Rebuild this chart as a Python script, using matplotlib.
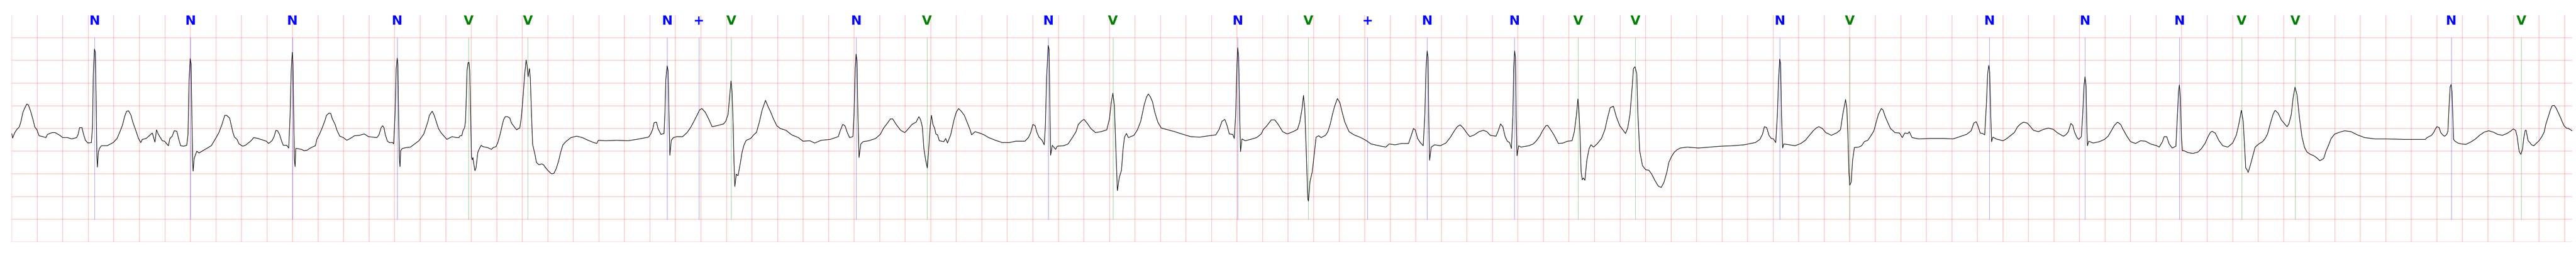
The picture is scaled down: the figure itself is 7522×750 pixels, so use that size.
import numpy as np
import matplotlib
matplotlib.use('Agg')
import matplotlib.pyplot as plt

### ### Данные ### ###

# ECG trace, time in seconds, amplitude in mV
ecg_t = [
    0.000, 0.007, 0.022, 0.040, 0.058, 0.070, 0.088, 0.100, 0.118, 0.130,
    0.148, 0.166, 0.181, 0.196, 0.214, 0.244, 0.268, 0.280, 0.316, 0.340,
    0.376, 0.400, 0.436, 0.470, 0.508, 0.520, 0.532, 0.550, 0.561, 0.577,
    0.597, 0.624, 0.633, 0.639, 0.648, 0.655, 0.661, 0.667, 0.671, 0.678,
    0.687, 0.702, 0.747, 0.795, 0.825, 0.849, 0.867, 0.885, 0.900, 0.915,
    0.933, 0.951, 0.969, 0.993, 1.011, 1.023, 1.053, 1.077, 1.101, 1.122,
    1.134, 1.149, 1.179, 1.197, 1.227, 1.239, 1.257, 1.273, 1.293, 1.309,
    1.323, 1.347, 1.371, 1.381, 1.389, 1.398, 1.405, 1.411, 1.417, 1.421,
    1.429, 1.450, 1.467, 1.515, 1.563, 1.593, 1.623, 1.647, 1.669, 1.683,
    1.707,
    1.732, 1.745, 1.765, 1.781, 1.809, 1.831, 1.853, 1.875, 1.896, 1.929,
    1.951, 1.995, 2.012, 2.039, 2.055, 2.070, 2.083, 2.099, 2.116, 2.127,
    2.154, 2.170, 2.181, 2.190, 2.198, 2.203, 2.210, 2.215, 2.220, 2.225,
    2.234, 2.269, 2.291, 2.313, 2.346, 2.379, 2.390, 2.412, 2.433, 2.453,
    2.466, 2.486, 2.499, 2.512, 2.532, 2.548, 2.570, 2.598, 2.625, 2.652,
    2.685, 2.724, 2.762, 2.795, 2.828, 2.861, 2.877, 2.894, 2.905, 2.916,
    2.927, 2.943, 2.959, 2.985, 2.992, 3.003, 3.012, 3.020, 3.025, 3.032,
    3.038, 3.042, 3.047, 3.060, 3.091, 3.124, 3.157, 3.190, 3.211, 3.228,
    3.244, 3.261, 3.272, 3.294, 3.310, 3.326, 3.343, 3.365, 3.387,
    3.409, 3.449, 3.485, 3.503, 3.512, 3.526, 3.535, 3.548, 3.555, 3.561,
    3.567, 3.575, 3.582, 3.588, 3.595, 3.602, 3.608, 3.613, 3.620, 3.629,
    3.638, 3.651, 3.664, 3.678, 3.691, 3.727, 3.759, 3.772, 3.794, 3.808,
    3.826, 3.844, 3.853, 3.866, 3.884, 3.902, 3.915, 3.933, 3.956, 3.969,
    3.980, 3.992, 4.005, 4.019, 4.030, 4.037, 4.045, 4.056, 4.063, 4.072,
    4.081, 4.090, 4.099, 4.111, 4.130, 4.153, 4.166, 4.184, 4.202, 4.229,
    4.247, 4.265, 4.283, 4.300, 4.318, 4.345, 4.381, 4.426, 4.471, 4.515,
    4.560, 4.583, 4.596, 4.650, 4.740,
    4.828, 4.917, 4.989, 5.006, 5.021, 5.033, 5.051, 5.063, 5.086, 5.110,
    5.117, 5.124, 5.135, 5.142, 5.149, 5.156, 5.167, 5.184, 5.211, 5.256,
    5.291, 5.318, 5.345, 5.372, 5.389, 5.407, 5.433, 5.460, 5.487, 5.522,
    5.576, 5.594, 5.612, 5.624, 5.635, 5.643, 5.652, 5.658, 5.665, 5.676,
    5.690, 5.709, 5.722, 5.736, 5.754, 5.789, 5.816, 5.834, 5.857, 5.879,
    5.893, 5.905, 5.923, 5.946, 5.968, 5.994, 6.021, 6.066, 6.110, 6.163,
    6.199, 6.252, 6.291, 6.341, 6.412, 6.475, 6.492, 6.510, 6.528, 6.546,
    6.564, 6.590, 6.599, 6.608, 6.615, 6.622, 6.629, 6.638, 6.652, 6.670,
    6.715, 6.768, 6.804, 6.831, 6.858, 6.884, 6.902, 6.929, 6.964, 6.996,
    7.017, 7.053, 7.085, 7.107, 7.119, 7.128, 7.135, 7.146, 7.160, 7.173,
    7.181, 7.196, 7.205, 7.217, 7.231, 7.240, 7.253, 7.267, 7.302, 7.317,
    7.331, 7.356, 7.382, 7.400, 7.418, 7.436, 7.463, 7.489, 7.507,
    7.520, 7.547, 7.582, 7.618, 7.653, 7.707, 7.760, 7.814, 7.867, 7.938,
    7.965, 7.983, 8.000, 8.018, 8.031, 8.048, 8.072, 8.089, 8.098, 8.107,
    8.120, 8.127, 8.134, 8.139, 8.152, 8.178, 8.191, 8.241, 8.276, 8.312,
    8.338, 8.356, 8.383, 8.401, 8.427, 8.454, 8.490, 8.534, 8.579, 8.600,
    8.614, 8.627, 8.638, 8.650, 8.662, 8.677, 8.694, 8.707, 8.718, 8.733,
    8.748, 8.792, 8.819, 8.845, 8.872, 8.890, 8.904, 8.920, 8.937, 8.955,
    8.979, 9.006, 9.059, 9.112, 9.166, 9.237, 9.308, 9.379, 9.433, 9.459,
    9.482, 9.504, 9.522, 9.539, 9.566, 9.578, 9.589, 9.598, 9.605, 9.612,
    9.620, 9.627, 9.638, 9.664, 9.718, 9.753, 9.789, 9.806, 9.833, 9.868,
    9.895, 9.922, 9.957, 9.993, 10.038, 10.073, 10.091, 10.109, 10.120, 10.130,
    10.141, 10.154, 10.159, 10.171, 10.189, 10.207, 10.219,
    10.240, 10.258, 10.293, 10.311, 10.329, 10.347, 10.364, 10.386, 10.405, 10.423,
    10.444, 10.477, 10.516, 10.569, 10.614, 10.649, 10.711, 10.765, 10.791, 10.836,
    10.889, 10.943, 10.960, 10.982, 10.996, 11.014, 11.035, 11.058, 11.071, 11.080,
    11.089, 11.096, 11.101, 11.108, 11.121, 11.147, 11.192, 11.236, 11.272, 11.302,
    11.325, 11.347, 11.370, 11.397, 11.423, 11.459, 11.495, 11.530, 11.557, 11.583,
    11.628, 11.646, 11.664, 11.682, 11.699, 11.717, 11.735, 11.749, 11.761, 11.767,
    11.774, 11.781, 11.786, 11.793, 11.806, 11.823, 11.886, 11.921, 11.948, 11.975,
    11.993, 12.019, 12.032, 12.055, 12.082, 12.117, 12.153, 12.189, 12.224, 12.242,
    12.259, 12.270, 12.277, 12.286, 12.295, 12.304, 12.313, 12.325, 12.340, 12.358,
    12.372, 12.393, 12.420, 12.455, 12.482, 12.500, 12.523, 12.548, 12.571, 12.598,
    12.625, 12.643, 12.660, 12.678, 12.696, 12.705, 12.717, 12.731, 12.740, 12.754,
    12.776, 12.802, 12.826, 12.847, 12.874, 12.900, 12.923, 12.945, 12.968, 12.982,
    13.003,
    13.023, 13.046, 13.073, 13.126, 13.215, 13.304, 13.393, 13.482, 13.571, 13.660,
    13.696, 13.717, 13.731, 13.749, 13.767, 13.785, 13.802, 13.820, 13.833, 13.842,
    13.851, 13.858, 13.865, 13.874, 13.883, 13.927, 13.972, 14.016, 14.052, 14.087,
    14.114, 14.137, 14.158, 14.185, 14.212, 14.256, 14.301, 14.327, 14.345, 14.367,
    14.377, 14.386, 14.393, 14.400, 14.411, 14.422, 14.436, 14.470, 14.493, 14.514,
    14.541, 14.568, 14.589, 14.607, 14.624, 14.647, 14.660, 14.678, 14.701, 14.719,
    14.754, 14.790, 14.811, 14.831, 14.856, 14.866, 14.888, 14.941, 15.030, 15.137,
    15.208, 15.262, 15.315, 15.351, 15.372, 15.390, 15.404, 15.422, 15.440, 15.457,
    15.471, 15.480, 15.489, 15.496, 15.504, 15.511, 15.521, 15.546, 15.600, 15.626,
    15.653, 15.689, 15.715, 15.738,
    15.761, 15.790, 15.810, 15.839, 15.878, 15.917, 15.956, 15.995, 16.024, 16.073,
    16.093, 16.112, 16.132, 16.147, 16.161, 16.180, 16.194, 16.214, 16.225, 16.235,
    16.243, 16.251, 16.257, 16.262, 16.272, 16.307, 16.356, 16.395, 16.424, 16.453,
    16.473, 16.498, 16.522, 16.541, 16.571, 16.600, 16.639, 16.678, 16.717, 16.756,
    16.805, 16.824, 16.850, 16.863, 16.883, 16.902, 16.926, 16.955, 16.967, 16.976,
    16.982, 16.990, 16.998, 17.006, 17.019, 17.049, 17.088, 17.127, 17.156, 17.185,
    17.205, 17.224, 17.238, 17.263, 17.293, 17.322, 17.361, 17.400, 17.429, 17.449,
    17.468, 17.482, 17.494, 17.502, 17.511, 17.521, 17.537, 17.556, 17.576, 17.605,
    17.634, 17.654, 17.673, 17.693, 17.716, 17.732, 17.755, 17.781, 17.810, 17.826,
    17.840, 17.859, 17.873, 17.888, 17.904, 17.924, 17.943, 17.963, 17.982, 18.009,
    18.035, 18.060, 18.083, 18.113, 18.132, 18.152, 18.171, 18.200, 18.239, 18.278,
    18.327, 18.376, 18.434, 18.512, 18.610, 18.742,
    18.797, 18.869, 18.909, 18.923, 18.958, 18.976, 18.990, 18.999, 19.017, 19.030,
    19.048, 19.061, 19.077, 19.086, 19.095, 19.104, 19.111, 19.118, 19.124, 19.130,
    19.142, 19.164, 19.191, 19.227, 19.263, 19.298, 19.334, 19.370, 19.406, 19.442,
    19.477, 19.513, 19.549, 19.576, 19.598, 19.616, 19.628, 19.638, 19.645, 19.658,
    19.670, 19.681, 19.692, 19.699, 19.708, 19.714, 19.728, 19.741, 19.759, 19.777,
    19.800, 19.822, 19.840, 19.853, 19.871, 19.889, 19.902, 19.918, 19.934, 19.952,
    19.970, 19.983, 19.996, 20.014, 20.032, 20.059,
]

ecg_mv = [
    -0.11, -0.21, -0.10, -0.02, 0.03, 0.13, 0.36, 0.44, 0.54, 0.52,
    0.38, 0.20, 0.03, -0.02, -0.16, -0.18, -0.20, -0.13, -0.09, -0.09,
    -0.15, -0.20, -0.20, -0.23, -0.20, -0.13, 0.02, 0.02, -0.11, -0.26,
    -0.32, -0.31, 0.05, 1.21, 1.75, 1.68, 0.67, -0.60, -0.85, -0.53,
    -0.44, -0.38, -0.38, -0.31, -0.22, -0.06, 0.07, 0.27, 0.38, 0.39,
    0.30, 0.12, -0.02, -0.22, -0.31, -0.24, -0.22, -0.16, -0.10, -0.30,
    -0.03, -0.13, -0.27, -0.28, -0.38, -0.22, -0.17, -0.05, -0.06, -0.24,
    -0.38, -0.39, -0.37, -0.13, 1.03, 1.54, 1.43, 0.30, -0.71, -0.94,
    -0.66, -0.50, -0.54, -0.46, -0.38, -0.24, -0.09, 0.09, 0.29, 0.29,
    0.23,
    -0.08, -0.19, -0.24, -0.34, -0.39, -0.37, -0.32, -0.27, -0.20, -0.22,
    -0.24, -0.28, -0.33, -0.27, -0.18, -0.04, -0.05, -0.14, -0.29, -0.37,
    -0.37, -0.43, 0.31, 1.32, 1.68, 1.45, 0.06, -0.70, -0.84, -0.44,
    -0.44, -0.46, -0.49, -0.48, -0.42, -0.38, -0.24, -0.12, 0.02, 0.17,
    0.29, 0.34, 0.33, 0.21, 0.10, -0.04, -0.17, -0.20, -0.26, -0.22,
    -0.16, -0.15, -0.12, -0.18, -0.19, -0.20, -0.14, 0.02, 0.06, 0.02,
    -0.14, -0.28, -0.31, -0.31, -0.34, 0.31, 1.32, 1.55, 1.42, 0.06,
    -0.70, -0.84, -0.49, -0.44, -0.42, -0.41, -0.34, -0.27, -0.19, -0.12,
    0.01, 0.16, 0.29, 0.38, 0.29, 0.15, 0.00, -0.10, -0.17,
    -0.24, -0.18, -0.20, -0.20, -0.16, -0.16, -0.05, 0.02, 0.16, 0.67,
    1.28, 1.45, 1.46, 1.28, 0.30, -0.64, -0.69, -0.64, -0.78, -0.93,
    -0.86, -0.53, -0.44, -0.37, -0.40, -0.42, -0.46, -0.42, -0.40, -0.31,
    -0.13, 0.09, 0.19, 0.26, 0.26, 0.23, 0.12, 0.05, -0.03, 0.00,
    0.01, 0.23, 0.67, 1.21, 1.51, 1.39, 1.14, 1.32, 1.10, 0.30,
    -0.35, -0.46, -0.57, -0.75, -0.80, -0.78, -0.80, -0.87, -0.93, -1.00,
    -0.99, -0.89, -0.73, -0.53, -0.36, -0.28, -0.20, -0.17, -0.20, -0.26,
    -0.31, -0.33, -0.26, -0.27, -0.26,
    -0.27, -0.23, -0.19, -0.12, -0.02, 0.13, 0.14, 0.00, -0.13, -0.11,
    0.31, 1.07, 1.38, 1.27, 0.31, -0.59, -0.26, -0.20, -0.18, -0.18,
    -0.09, 0.02, 0.16, 0.31, 0.41, 0.44, 0.36, 0.21, 0.04, 0.06,
    0.10, 0.16, 0.31, 0.69, 1.05, 0.82, 0.06, -0.70, -1.28, -1.01,
    -1.04, -0.75, -0.52, -0.37, -0.26, -0.22, -0.13, -0.09, 0.14, 0.41,
    0.52, 0.62, 0.50, 0.36, 0.21, 0.06, 0.00, -0.04, -0.14, -0.20,
    -0.28, -0.27, -0.32, -0.26, -0.24, -0.18, -0.04, 0.09, 0.06, -0.09,
    -0.20, -0.18, 0.31, 1.32, 1.64, 1.50, 0.31, -0.64, -0.34, -0.29,
    -0.27, -0.22, -0.13, 0.01, 0.11, 0.21, 0.21, 0.09, -0.04, -0.09,
    -0.03, 0.09, 0.14, 0.26, 0.20, 0.11, 0.01, -0.44, -0.70, -0.87,
    -0.57, 0.06, 0.29, 0.09, 0.00, -0.12, -0.14, -0.27, -0.29, -0.22,
    -0.32, -0.14, 0.19, 0.36, 0.44, 0.39, 0.29, 0.11, -0.02,
    -0.14, -0.07, -0.10, -0.14, -0.20, -0.26, -0.31, -0.31, -0.28, -0.28,
    -0.20, -0.09, 0.09, 0.06, -0.08, -0.19, -0.26, -0.36, 0.06, 1.07,
    1.83, 1.75, 0.31, -0.59, -0.37, -0.46, -0.39, -0.38, -0.34, -0.19,
    -0.07, 0.09, 0.17, 0.20, 0.11, 0.00, -0.09, -0.07, -0.03, 0.21,
    0.57, 0.78, 0.52, -0.44, -1.37, -1.08, -0.92, -0.44, -0.19, -0.11,
    -0.20, -0.15, -0.03, 0.16, 0.52, 0.69, 0.76, 0.70, 0.59, 0.36,
    0.14, 0.01, -0.03, -0.07, -0.12, -0.18, -0.19, -0.16, -0.14, -0.02,
    0.16, 0.20, 0.06, -0.12, -0.13, -0.22, 0.31, 1.32, 1.78, 1.58,
    0.31, -0.51, -0.23, -0.27, -0.23, -0.20, -0.12, -0.02, 0.06, 0.19,
    0.19, 0.09, -0.07, -0.12, -0.07, -0.02, 0.14, 0.44, 0.73, 0.44,
    -0.44, -1.56, -1.60, -1.17, -0.95, -0.49, -0.19,
    -0.16, -0.20, -0.15, -0.07, 0.09, 0.31, 0.49, 0.66, 0.57, 0.36,
    0.14, -0.07, -0.14, -0.20, -0.27, -0.34, -0.38, -0.41, -0.34, -0.36,
    -0.33, -0.33, -0.19, 0.00, -0.03, -0.22, -0.31, -0.38, 0.31, 1.32,
    1.71, 1.57, 0.31, -0.70, -0.41, -0.36, -0.38, -0.32, -0.19, -0.05,
    0.04, 0.08, 0.02, -0.09, -0.18, -0.14, -0.07, -0.04, -0.07, -0.15,
    -0.17, -0.05, 0.10, 0.04, -0.17, -0.28, -0.31, -0.44, 0.31, 1.32,
    1.71, 1.57, 0.31, -0.60, -0.38, -0.41, -0.38, -0.34, -0.26, -0.15,
    -0.05, 0.06, 0.07, -0.02, -0.14, -0.33, -0.32, -0.28, -0.27, -0.07,
    0.31, 0.65, 0.44, -0.07, -0.95, -1.13, -1.09, -1.14, -0.70, -0.44,
    -0.36, -0.41, -0.34, -0.22, -0.02, 0.21, 0.46, 0.49, 0.26, 0.06,
    -0.04, -0.11, 0.01, 0.31, 0.94, 1.32, 1.36, 1.21, 0.31, -0.49,
    -0.82, -0.91, -0.92, -1.00, -1.15, -1.27, -1.30, -1.18, -0.95, -0.75,
    -0.62,
    -0.53, -0.47, -0.43, -0.41, -0.43, -0.41, -0.39, -0.38, -0.36, -0.31,
    -0.24, -0.12, 0.04, 0.02, -0.15, -0.22, -0.23, -0.31, 0.31, 1.07,
    1.53, 1.43, 0.31, -0.43, -0.34, -0.36, -0.38, -0.33, -0.26, -0.14,
    -0.05, 0.01, 0.04, 0.00, -0.09, -0.15, -0.09, -0.03, 0.31, 0.64,
    0.44, -0.19, -0.95, -1.25, -1.18, -0.70, -0.42, -0.41, -0.38, -0.29,
    -0.26, -0.15, -0.05, 0.14, 0.31, 0.44, 0.41, 0.26, 0.11, 0.00,
    -0.09, -0.10, -0.20, -0.10, -0.11, -0.07, -0.20, -0.23, -0.22, -0.22,
    -0.23, -0.18, -0.13, -0.05, 0.12, 0.15, 0.06, -0.10, -0.11, -0.14,
    0.57, 1.20, 1.39, 1.25, 0.31, -0.29, -0.19, -0.23, -0.27, -0.23,
    -0.17, -0.09, 0.04, 0.10,
    0.14, 0.12, 0.06, -0.04, -0.07, -0.02, 0.01, -0.02, -0.09, -0.17,
    -0.14, -0.07, 0.11, 0.07, -0.08, -0.20, -0.24, -0.18, 0.31, 0.94,
    1.14, 0.94, 0.06, -0.38, -0.28, -0.32, -0.29, -0.24, -0.17, -0.03,
    0.07, 0.14, 0.09, -0.02, -0.17, -0.29, -0.33, -0.27, -0.28, -0.34,
    -0.38, -0.41, -0.29, -0.18, -0.18, -0.34, -0.43, -0.39, 0.31, 0.82,
    0.96, 0.69, -0.19, -0.49, -0.49, -0.53, -0.55, -0.52, -0.44, -0.32,
    -0.19, -0.09, -0.06, -0.10, -0.27, -0.38, -0.41, -0.32, -0.14, 0.11,
    0.40, 0.16, -0.44, -0.87, -0.90, -0.97, -0.82, -0.62, -0.41, -0.34,
    -0.29, -0.22, -0.12, 0.09, 0.31, 0.40, 0.34, 0.19, 0.09, 0.04,
    0.10, 0.31, 0.67, 0.91, 0.74, 0.21, -0.19, -0.42, -0.52, -0.57,
    -0.60, -0.65, -0.71, -0.66, -0.49, -0.36, -0.22, -0.12, -0.08, -0.05,
    -0.07, -0.14, -0.20, -0.23, -0.23, -0.24,
    -0.24, -0.24, -0.24, -0.20, -0.15, -0.08, 0.00, 0.04, 0.02, -0.09,
    -0.15, -0.17, -0.13, -0.06, 0.49, 0.92, 0.97, 0.81, 0.30, -0.24,
    -0.28, -0.32, -0.34, -0.35, -0.30, -0.24, -0.15, -0.08, -0.05, -0.08,
    -0.13, -0.15, -0.11, -0.06, -0.01, -0.04, -0.17, -0.38, -0.51, -0.57,
    -0.46, -0.20, -0.04, -0.04, -0.18, -0.27, -0.31, -0.36, -0.38, -0.33,
    -0.27, -0.18, -0.08, 0.09, 0.25, 0.41, 0.50, 0.51, 0.45, 0.34,
    0.23, 0.14, 0.06, 0.01, 0.00, -0.05,
]

# beat annotations
ann_t = [0.648, 1.400, 2.198, 3.019, 3.579, 4.042, 5.135, 5.384, 5.636, 6.615,
         7.170, 8.120, 8.627, 9.605, 10.157, 10.622, 11.089, 11.772, 12.272, 12.720,
         13.851, 14.400, 15.493, 16.243, 16.982, 17.470, 17.890, 19.112, 19.660]
ann_sym = ['N', 'N', 'N', 'N', 'V', 'V', 'N', '+', 'V', 'N',
           'V', 'N', 'V', 'N', 'V', '+', 'N', 'N', 'V', 'V',
           'N', 'V', 'N', 'N', 'N', 'V', 'V', 'N', 'V']

sym_colors = {'N': 'blue', '+': 'blue', 'V': 'green'}

t_end = 20.06


### ### График ### ###

fig = plt.figure(figsize=(75.22, 7.5), dpi=100)
ax = fig.add_axes([34.3 / 7522, 44 / 750, (7511 - 34.3) / 7522, 662 / 750])

ax.set_xlim(0, t_end)
ax.set_ylim(-2.5, 2.5)
ax.set_xticks(np.arange(0, 20.01, 0.2))
ax.set_yticks(np.arange(-2.5, 2.01, 0.5))
ax.grid(True, color='red', alpha=0.3, linewidth=1.1)
ax.tick_params(left=False, bottom=False, labelleft=False, labelbottom=False)
for s in ax.spines.values():
    s.set_visible(False)

ax.plot(ecg_t, ecg_mv, color='black', linewidth=1.2, zorder=3)

for t, sym in zip(ann_t, ann_sym):
    c = sym_colors[sym]
    ax.plot([t, t], [-2.0, 2.0], color=c, alpha=0.5, linewidth=0.8, zorder=2)
    ax.text(t, 2.286, sym, color=c, fontsize=27, fontweight='bold',
            ha='center', va='baseline', zorder=4)

fig.savefig('out.png', dpi=100)
